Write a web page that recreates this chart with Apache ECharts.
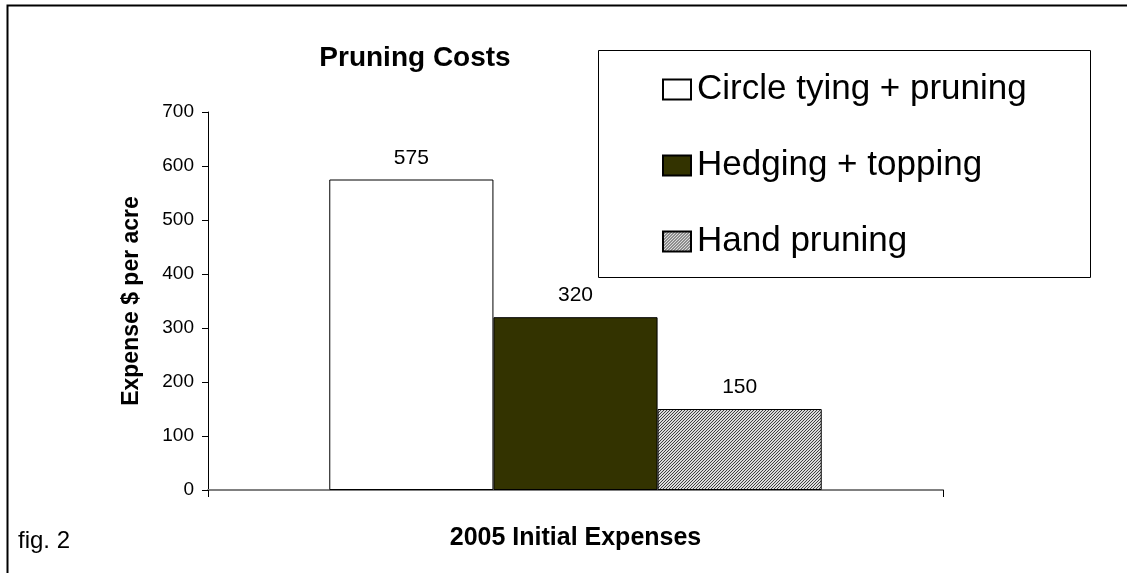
<!DOCTYPE html>
<html><head><meta charset="utf-8">
<script src="https://cdn.jsdelivr.net/npm/echarts@6/dist/echarts.min.js"></script>
<style>html,body{margin:0;padding:0;background:#fff}#c{width:1127px;height:573px}</style>
</head><body><div id="c"></div>
<script>
const categories = ['2005 Initial Expenses'];
const seriesNames = ['Circle tying + pruning', 'Hedging + topping', 'Hand pruning'];
const circleTying = [575];
const hedging = [320];
const handPruning = [150];
const yTicks = [0, 100, 200, 300, 400, 500, 600, 700];

const FONT = '"Liberation Sans", Arial, sans-serif';

// hatch pattern
const pc = document.createElement('canvas');
pc.width = 3; pc.height = 3;
const px = pc.getContext('2d');
px.fillStyle = '#dcdcdc'; px.fillRect(0,0,3,3);
px.fillStyle = '#404040';
for (let i=0;i<3;i++){ px.fillRect((2-i), i, 1, 1); }
const hatch = {image: pc, repeat: 'repeat'};

const chart = echarts.init(document.getElementById('c'), null, {renderer:'canvas'});
const lbl = {show:true, position:'top', distance:11, color:'#000', fontFamily:FONT, fontSize:21};
chart.setOption({
  animation:false,
  grid:{left:208, right:184, top:112, bottom:83},
  title:{text:'Pruning Costs', left:410, top:39, textAlign:'center',
    textStyle:{fontFamily:FONT, fontWeight:'bold', fontSize:28, color:'#000'}},
  legend:{orient:'vertical', left:657, top:67, itemWidth:28, itemHeight:20, itemGap:41,
    icon:'rect',
    textStyle:{fontFamily:FONT, fontSize:35, lineHeight:34, color:'#000', padding:[0,0,0,1]},
    data:seriesNames},
  xAxis:{type:'category', data:categories,
    axisLine:{lineStyle:{color:'#808080', width:2}},
    axisTick:{show:true, length:7, lineStyle:{color:'#000'}},
    axisLabel:{show:false},
    name:categories[0], nameLocation:'middle', nameGap:36,
    nameTextStyle:{fontFamily:FONT, fontWeight:'bold', fontSize:25, color:'#000'}},
  yAxis:{type:'value', min:yTicks[0], max:yTicks[yTicks.length-1], interval:100,
    axisLine:{show:true, lineStyle:{color:'#000', width:1}},
    axisTick:{show:true, length:6, lineStyle:{color:'#000'}},
    splitLine:{show:false},
    axisLabel:{fontFamily:FONT, fontSize:19, color:'#000', margin:14},
    name:'Expense $ per acre', nameLocation:'middle', nameGap:65, nameRotate:90,
    nameTextStyle:{fontFamily:FONT, fontWeight:'bold', fontSize:23, color:'#000'}},
  series:[
    {name:seriesNames[0], type:'bar', data:circleTying, barGap:'0%', barCategoryGap:'33%',
      itemStyle:{color:'#fff', borderColor:'#000', borderWidth:1}, label:lbl},
    {name:seriesNames[1], type:'bar', data:hedging,
      itemStyle:{color:'#333300', borderColor:'#000', borderWidth:1}, label:lbl},
    {name:seriesNames[2], type:'bar', data:handPruning,
      itemStyle:{color:hatch, borderColor:'#000', borderWidth:1}, label:lbl}
  ],
  graphic:[
    {type:'polyline', shape:{points:[[7.5,573],[7.5,5.5],[1127,5.5]]}, style:{stroke:'#000', lineWidth:2, fill:null}, silent:true},
    {type:'rect', shape:{x:598.5, y:50.5, width:492, height:227}, style:{stroke:'#000', lineWidth:1, fill:null}, silent:true, z:-1},
    {type:'text', left:18, top:529, style:{text:'fig. 2', fontFamily:FONT, fontSize:24, fill:'#000'}}
  ]
});
</script></body></html>
